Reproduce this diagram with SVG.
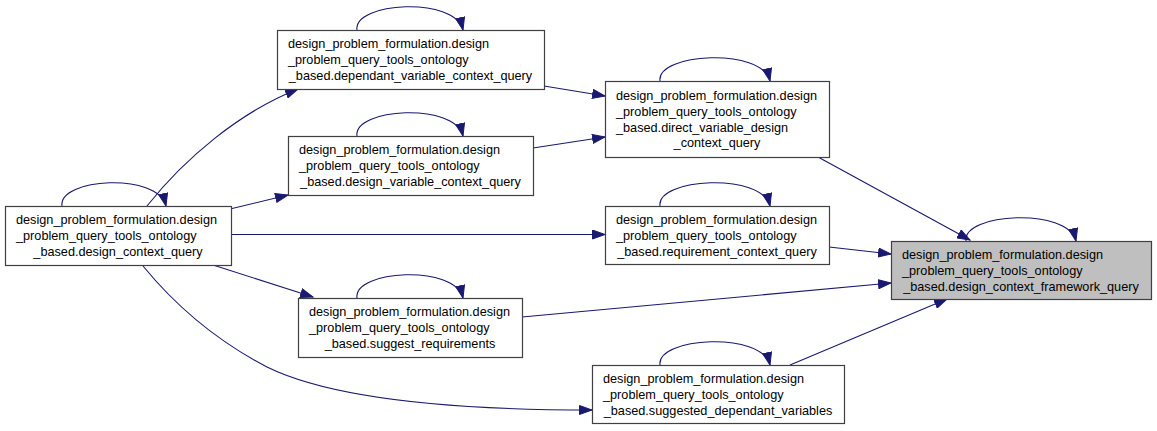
<svg xmlns="http://www.w3.org/2000/svg" width="1157" height="431" viewBox="0 0 1157 431">
<style>
.n rect{fill:#ffffff;stroke:#404040;stroke-width:1.2}
.n.hl rect{fill:#bfbfbf}
.n text{font-family:"Liberation Sans",Arial,Helvetica,sans-serif;font-size:12.7px;fill:#000000}
.n text.c{text-anchor:middle}
#edges path{fill:none;stroke:#191970;stroke-width:1.1;marker-end:url(#ah)}
</style>
<defs>
<marker id="ah" markerUnits="userSpaceOnUse" markerWidth="14" markerHeight="10" refX="13" refY="5" orient="auto" viewBox="0 0 14 10">
<path d="M0.5,0.5 L13,5 L0.5,9.5 z" fill="#191970" stroke="#191970" stroke-width="1"/>
</marker>
</defs>
<rect x="0" y="0" width="1157" height="431" fill="#ffffff"/>
<g id="edges">
<path d="M62,206 C58,178 158,172 166,206"/>
<path d="M357,30 C353,2 455,-4 463,30"/>
<path d="M357,136 C353,108 455,102 463,136"/>
<path d="M660,81 C656,53 762,47 770,81"/>
<path d="M660,206 C656,178 762,172 770,206"/>
<path d="M357,298 C353,270 455,264 463,298"/>
<path d="M660,365 C656,337 762,331 770,365"/>
<path d="M966,241 C962,213 1068,207 1076,241"/>
<path d="M147,206 C185,158 240,112 298,89"/>
<path d="M230,209 L288,195"/>
<path d="M231,234.5 L605,234.5"/>
<path d="M213,265 L313,297"/>
<path d="M143,266 C175,305 215,340 267,367 C320,393 420,410 592,410"/>
<path d="M544,86 L605,96"/>
<path d="M533,148 L605,137"/>
<path d="M818,157 L970,240"/>
<path d="M829,247 L891,254"/>
<path d="M522,317 L891,283"/>
<path d="M790,365 L947,299"/>
</g>
<g id="node_design_context_query" class="n">
<rect x="5.5" y="206.5" width="226" height="59"/>
<text x="16" y="224">design_problem_formulation.design</text>
<text x="16" y="240">_problem_query_tools_ontology</text>
<text class="c" x="118" y="256">_based.design_context_query</text>
</g>
<g id="node_dependant_variable_context_query" class="n">
<rect x="277.5" y="30.5" width="267" height="59"/>
<text x="288" y="48">design_problem_formulation.design</text>
<text x="288" y="64">_problem_query_tools_ontology</text>
<text class="c" x="410.5" y="80">_based.dependant_variable_context_query</text>
</g>
<g id="node_design_variable_context_query" class="n">
<rect x="288.5" y="136.5" width="245" height="59"/>
<text x="299" y="154">design_problem_formulation.design</text>
<text x="299" y="170">_problem_query_tools_ontology</text>
<text class="c" x="410.5" y="186">_based.design_variable_context_query</text>
</g>
<g id="node_direct_variable_design_context_query" class="n">
<rect x="605.5" y="81.5" width="224" height="76"/>
<text x="616" y="100">design_problem_formulation.design</text>
<text x="616" y="116">_problem_query_tools_ontology</text>
<text x="616" y="131.5">_based.direct_variable_design</text>
<text class="c" x="717" y="147">_context_query</text>
</g>
<g id="node_requirement_context_query" class="n">
<rect x="605.5" y="206.5" width="224" height="58"/>
<text x="616" y="224">design_problem_formulation.design</text>
<text x="616" y="240">_problem_query_tools_ontology</text>
<text class="c" x="717" y="256">_based.requirement_context_query</text>
</g>
<g id="node_design_context_framework_query" class="n hl">
<rect x="891.5" y="241.5" width="260" height="58"/>
<text x="902" y="259">design_problem_formulation.design</text>
<text x="902" y="275">_problem_query_tools_ontology</text>
<text class="c" x="1021" y="291">_based.design_context_framework_query</text>
</g>
<g id="node_suggest_requirements" class="n">
<rect x="298.5" y="298.5" width="224" height="59"/>
<text x="309" y="316">design_problem_formulation.design</text>
<text x="309" y="332">_problem_query_tools_ontology</text>
<text class="c" x="410" y="348">_based.suggest_requirements</text>
</g>
<g id="node_suggested_dependant_variables" class="n">
<rect x="592.5" y="365.5" width="252" height="58"/>
<text x="603" y="383">design_problem_formulation.design</text>
<text x="603" y="399">_problem_query_tools_ontology</text>
<text class="c" x="718" y="415">_based.suggested_dependant_variables</text>
</g>
</svg>
